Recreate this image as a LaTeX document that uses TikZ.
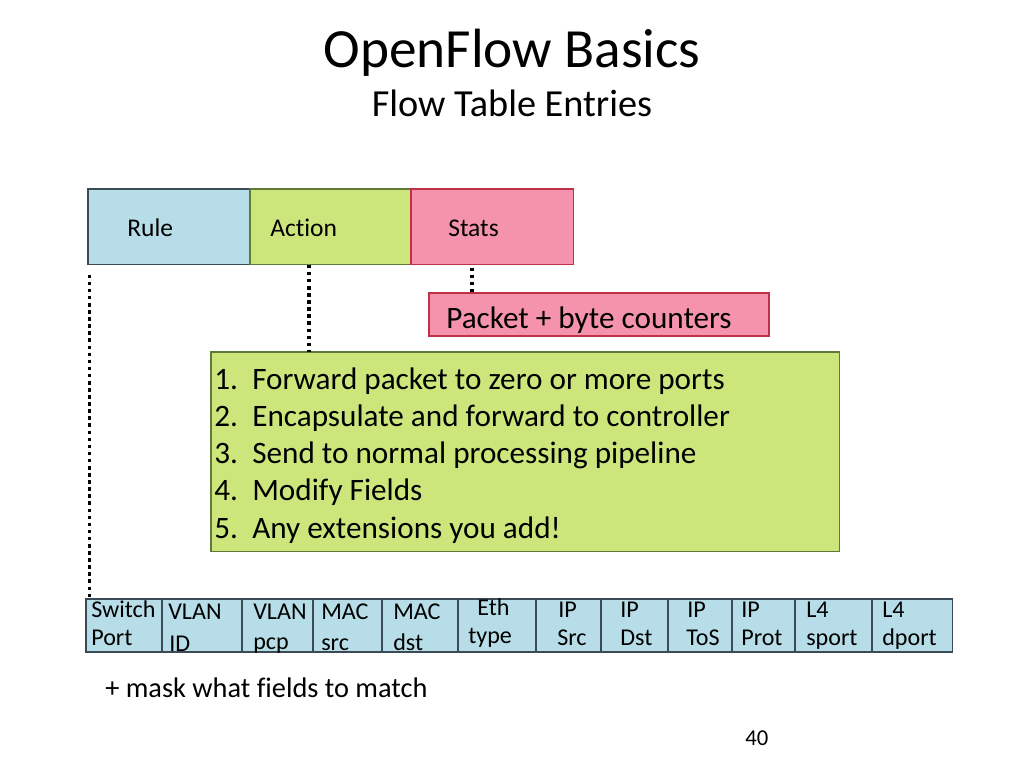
\documentclass[tikz,border=0pt]{standalone}
\usepackage{fontspec}
\setmainfont{Carlito}[Ligatures=NoCommon]
\usetikzlibrary{calc}
\definecolor{rulefill}{HTML}{B7DEE8}
\definecolor{ruleline}{HTML}{3B4A55}
\definecolor{actfill}{HTML}{CDE67C}
\definecolor{actline}{HTML}{5F7A36}
\definecolor{statfill}{HTML}{F693AC}
\definecolor{statline}{HTML}{C0304A}
\def\px{0.703pt}
\tikzset{
  box/.style={draw, line width=1pt, inner sep=0pt, outer sep=0pt, anchor=north west},
  lbl/.style={inner sep=0pt, anchor=base west, font=\fontsize{18}{22}\selectfont},
  big/.style={inner sep=0pt, anchor=base west, font=\fontsize{22}{26}\selectfont},
  fld/.style={inner sep=0pt, anchor=base west, font=\fontsize{17}{20}\selectfont},
  dotline/.style={line width=2.5pt, dash pattern=on 2.5pt off 2.5pt}
}
\begin{document}
\begin{tikzpicture}[x=0.0248cm, y=-0.0248cm]
\useasboundingbox (0,0) rectangle (1024,768);
\node[inner sep=0pt, anchor=base, font=\fontsize{39}{46}\selectfont] (title) at (512,68) {OpenFlow Basics};
\node[inner sep=0pt, anchor=base, font=\fontsize{27}{32}\selectfont] (subtitle) at (512,117) {Flow Table Entries};
% the three parts of an entry
\node[box, fill=rulefill, draw=ruleline, minimum width=162*\px, minimum height=76*\px] (rule) at (88,189) {};
\node[box, fill=actfill, draw=actline, minimum width=161*\px, minimum height=76*\px] (action) at (250,189) {};
\node[box, fill=statfill, draw=statline, minimum width=163*\px, minimum height=76*\px] (stats) at (411,189) {};
\node[lbl] at (127,236) {Rule};
\node[lbl] at (270,236) {Action};
\node[lbl] at (448,236) {Stats};
\node[box, fill=statfill, draw=statline, minimum width=341*\px, minimum height=43*\px] (counters) at (429,293) {};
\node[big] at (446,328) {Packet + byte counters};
\node[box, fill=actfill, draw=actline, minimum width=631*\px, minimum height=200*\px] (list) at (211,352) {};
\foreach \n/\t [count=\k] in {1/Forward packet to zero or more ports, 2/Encapsulate and forward to controller, 3/Send to normal processing pipeline, 4/Modify Fields, 5/Any extensions you add!} {
  \node[big] at (214,{389+37.3*(\k-1)}) {\n.};
  \node[big] at (252,{389+37.3*(\k-1)}) {\t};
}
% header fields
\foreach \i/\xa/\w/\da/\db/\ta/\tb/\la/\lb in {
  1/86/76/5/5/617/645/Switch/Port,
  2/162/80/6/7/619/651/VLAN/ID,
  3/242/71/11/11/619/649/VLAN/pcp,
  4/313/69/8/8/619/650/MAC/src,
  5/382/76/11/11/619/650/MAC/dst,
  6/458/78/19/10/615/643/Eth/type,
  7/536/65/22/21/617/645/IP/Src,
  8/601/67/19/19/617/645/IP/Dst,
  9/668/64/19/18/617/645/IP/ToS,
  10/732/63/9/9/617/645/IP/Prot,
  11/795/77/11/11/617/645/L4/sport,
  12/872/81/10/10/617/645/L4/dport} {
  \node[box, fill=rulefill, draw=ruleline, minimum width=\w*\px, minimum height=53*\px] (f\i) at (\xa,599) {};
  \node[fld] at (\xa+\da,\ta) {\la};
  \node[fld] at (\xa+\db,\tb) {\lb};
}
\draw[dotline] ([xshift=1pt, yshift=-7pt]rule.south west) -- ([xshift=1pt]rule.south west |- f1.north);
\draw[dotline] ([xshift=-15pt]action.south) -- ([xshift=-15pt]action.south |- list.north);
\draw[dotline] ([xshift=-14.4pt, yshift=-2pt]stats.south) -- ([xshift=-14.4pt]stats.south |- counters.north);
\node[inner sep=0pt, anchor=base west, font=\fontsize{20}{24}\selectfont] (mask) at (105,697) {+ mask what fields to match};
\node[inner sep=0pt, anchor=base west, font=\fontsize{16}{18}\selectfont] (page) at (745,745) {40};
\end{tikzpicture}
\end{document}
